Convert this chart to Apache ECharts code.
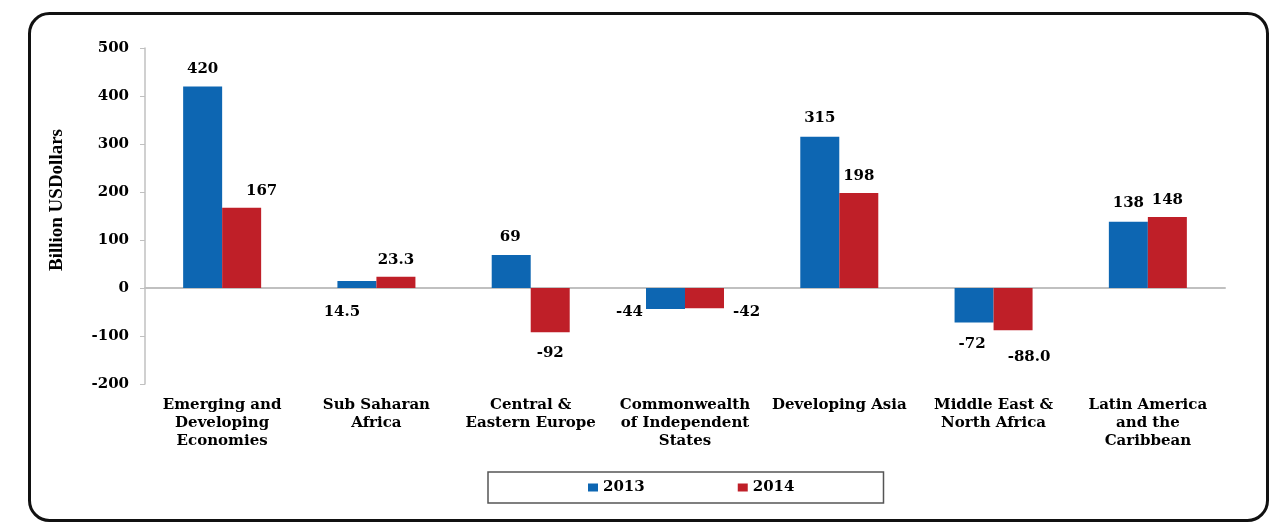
<!DOCTYPE html>
<html>
<head>
<meta charset="utf-8">
<script src="https://cdn.jsdelivr.net/npm/echarts@6/dist/echarts.min.js"></script>
<style>
  html, body { margin: 0; padding: 0; background: #fff; }
  #chart { width: 1274px; height: 522px; }
</style>
</head>
<body>
<div id="chart"></div>
<script>
  const categories = [
    'Emerging and\nDeveloping\nEconomies',
    'Sub Saharan\nAfrica',
    'Central &\nEastern Europe',
    'Commonwealth\nof Independent\nStates',
    'Developing Asia',
    'Middle East &\nNorth Africa',
    'Latin America\nand the\nCaribbean'
  ];
  const values2013 = [420, 14.5, 69, -44, 315, -72, 138];
  const values2014 = [167, 23.3, -92, -42, 198, -88.0, 148];
  // decimals shown in the data labels
  const decimals2013 = [0, 1, 0, 0, 0, 0, 0];
  const decimals2014 = [0, 1, 0, 0, 0, 1, 0];
  const yTicks = [-200, -100, 0, 100, 200, 300, 400, 500];

  // where each data label sits, like the hand-placed labels of the original
  const labelPlace2013 = [
    {position: 'top', offset: [0, -5]},
    {position: 'bottom', offset: [-15, 12]},
    {position: 'top', offset: [-1, -5]},
    {position: 'left', offset: [2, 14]},
    {position: 'top', offset: [0, -6]},
    {position: 'bottom', offset: [-2, 9]},
    {position: 'top', offset: [0, -6]}
  ];
  const labelPlace2014 = [
    {position: 'top', offset: [20, -4]},
    {position: 'top', offset: [0, -4]},
    {position: 'bottom', offset: [0, 8]},
    {position: 'right', offset: [4, 14]},
    {position: 'top', offset: [0, -4]},
    {position: 'bottom', offset: [16, 14]},
    {position: 'top', offset: [0, -4]}
  ];

  const serif = 'DejaVu Serif';
  const textStyle = {fontFamily: serif, fontWeight: 'bold', fontSize: 15, color: '#000'};

  function buildData(values, decimals, places) {
    return values.map((v, i) => ({
      value: v,
      label: {
        show: true,
        position: places[i].position,
        offset: places[i].offset,
        formatter: () => v.toFixed(decimals[i])
      }
    }));
  }

  const chart = echarts.init(document.getElementById('chart'));

  chart.setOption({
    animation: false,
    grid: {left: 145, right: 49, top: 48, bottom: 138},
    graphic: [{
      type: 'rect',
      left: 27,
      top: 11,
      shape: {width: 1238, height: 507, r: 20},
      style: {fill: 'none', stroke: '#111', lineWidth: 3},
      silent: true
    }],
    legend: {
      left: 488,
      top: 472,
      data: ['2013', '2014'],
      icon: 'rect',
      itemWidth: 10,
      itemHeight: 8,
      itemGap: 93,
      padding: [8, 89, 8, 100],
      borderColor: '#555',
      borderWidth: 1.5,
      textStyle: textStyle
    },
    xAxis: [
      {
        type: 'category',
        data: categories,
        position: 'bottom',
        axisLine: {show: false, onZero: false},
        axisTick: {show: false},
        axisLabel: Object.assign({interval: 0, margin: 12, lineHeight: 18}, textStyle)
      },
      {
        type: 'category',
        data: categories,
        position: 'bottom',
        axisLine: {onZero: true, lineStyle: {color: '#c0c0c0', width: 2}},
        axisTick: {alignWithLabel: true, inside: true, length: 5, lineStyle: {color: '#c0c0c0'}},
        axisLabel: {show: false}
      }
    ],
    yAxis: {
      type: 'value',
      min: yTicks[0],
      max: yTicks[yTicks.length - 1],
      interval: 100,
      name: 'Billion USDollars',
      nameLocation: 'middle',
      nameGap: 78,
      nameRotate: 90,
      nameTextStyle: {
        fontFamily: 'Liberation Serif',
        fontWeight: 'bold',
        fontSize: 19,
        color: '#000',
        padding: [0, 0, 0, 32]
      },
      axisLine: {show: true, lineStyle: {color: '#c0c0c0', width: 1.5}},
      axisTick: {show: true, length: 5, lineStyle: {color: '#c0c0c0'}},
      splitLine: {show: false},
      axisLabel: Object.assign({margin: 16}, textStyle)
    },
    series: [
      {
        name: '2013',
        type: 'bar',
        xAxisIndex: 0,
        barWidth: 39,
        barGap: '0%',
        itemStyle: {color: '#0d66b2'},
        label: textStyle,
        data: buildData(values2013, decimals2013, labelPlace2013)
      },
      {
        name: '2014',
        type: 'bar',
        xAxisIndex: 0,
        barWidth: 39,
        barGap: '0%',
        itemStyle: {color: '#bf1f28'},
        label: textStyle,
        data: buildData(values2014, decimals2014, labelPlace2014)
      }
    ]
  });
</script>
</body>
</html>
